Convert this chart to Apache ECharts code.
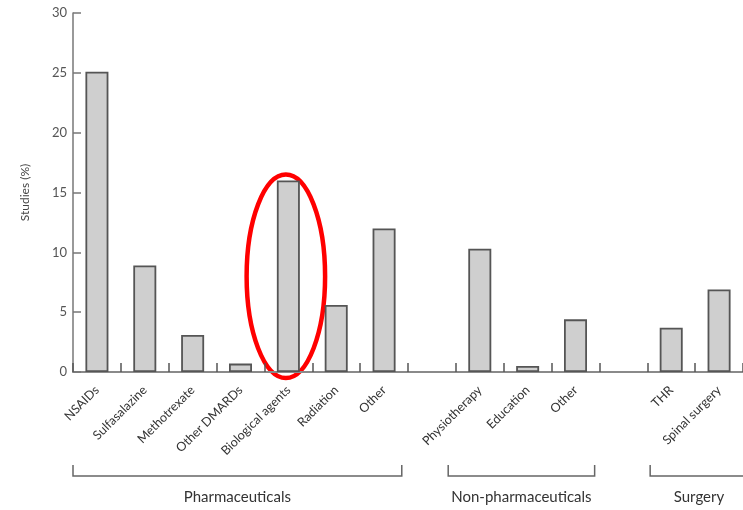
<!DOCTYPE html>
<html>
<head>
<meta charset="utf-8">
<script src="https://cdn.jsdelivr.net/npm/echarts@6/dist/echarts.min.js"></script>
<style>
  html, body { margin: 0; padding: 0; background: #fff; }
  #chart { width: 743px; height: 510px; }
</style>
</head>
<body>
<div id="chart"></div>
<script>
// Treatment categories; empty strings are spacer slots between groups
const categories = [
  'NSAIDs', 'Sulfasalazine', 'Methotrexate', 'Other DMARDs', 'Biological agents', 'Radiation', 'Other',
  '',
  'Physiotherapy', 'Education', 'Other',
  '',
  'THR', 'Spinal surgery'
];

// Share of studies (%) per category
const studies = [25.1, 8.9, 3.1, 0.7, 16.0, 5.6, 12.0, null, 10.3, 0.5, 4.4, null, 3.7, 6.9];

// Y axis range
const yMin = 0, yMax = 30, yStep = 5;

// Treatment groups: first/last category index of each bracket
const groups = [
  { name: 'Pharmaceuticals', from: 0, to: 6 },
  { name: 'Non-pharmaceuticals', from: 8, to: 10 },
  { name: 'Surgery', from: 12, to: 13 }
];

// Index of the category whose bar is circled
const highlighted = 4;

const font = 'Lato, "DejaVu Sans", sans-serif';
const chart = echarts.init(document.getElementById('chart'), null, { renderer: 'canvas' });

chart.setOption({
  animation: false,
  grid: { left: 73, top: 13, width: 672, height: 359 },
  xAxis: {
    type: 'category',
    data: categories,
    boundaryGap: true,
    axisLine: { lineStyle: { color: '#8a8a8a', width: 2 } },
    axisTick: { show: true, inside: true, length: 9, lineStyle: { color: '#555', width: 1.5 } },
    axisLabel: {
      rotate: 45, interval: 0, margin: 16,
      fontFamily: font, fontSize: 12.5, color: '#333'
    }
  },
  yAxis: {
    type: 'value',
    min: yMin, max: yMax, interval: yStep,
    name: 'Studies (%)',
    nameLocation: 'middle',
    nameGap: 42,
    nameTextStyle: { fontFamily: font, fontSize: 12, color: '#444' },
    axisLine: { show: true, lineStyle: { color: '#777', width: 1.5 } },
    axisTick: { show: true, inside: true, length: 8, lineStyle: { color: '#777', width: 1.5 } },
    axisLabel: { fontFamily: font, fontSize: 13, color: '#555', margin: 6 },
    splitLine: { show: false }
  },
  series: [{
    type: 'bar',
    data: studies,
    barWidth: 23,
    itemStyle: { color: '#cfcfcf', borderColor: '#555', borderWidth: 1.8 }
  }]
});

// Group brackets and the highlight ellipse, positioned from the axis scales
function px(idx, val) {
  return chart.convertToPixel({ gridIndex: 0 }, [idx, val]);
}
const step = px(1, 0)[0] - px(0, 0)[0];
const bracketY = 476, bracketTick = 11;
const extents = [[-0.5, 0.37], [-0.66, 0.4], [-0.44, 0.6]];

const graphics = [];
groups.forEach((g, i) => {
  const x0 = px(g.from, 0)[0] + extents[i][0] * step;
  const x1 = px(g.to, 0)[0] + extents[i][1] * step;
  graphics.push({
    type: 'polyline',
    shape: { points: [[x0, bracketY - bracketTick], [x0, bracketY], [x1, bracketY], [x1, bracketY - bracketTick]] },
    style: { stroke: '#666', lineWidth: 1.5, fill: null }
  });
  graphics.push({
    type: 'text',
    x: (x0 + x1) / 2,
    y: 497,
    style: {
      text: g.name, fontFamily: font, fontSize: 15, fill: '#333',
      textAlign: 'center', textVerticalAlign: 'middle'
    }
  });
});

const hiVal = studies[highlighted];
const hiTop = px(highlighted, hiVal);
const hiBase = px(highlighted, 0);
graphics.push({
  type: 'ellipse',
  shape: {
    cx: hiTop[0] - 2.5,
    cy: (hiTop[1] + hiBase[1]) / 2,
    rx: step * 0.82,
    ry: (hiBase[1] - hiTop[1]) / 2 + 6
  },
  style: { stroke: '#f00', lineWidth: 4.5, fill: null }
});

chart.setOption({ graphic: graphics });
</script>
</body>
</html>
